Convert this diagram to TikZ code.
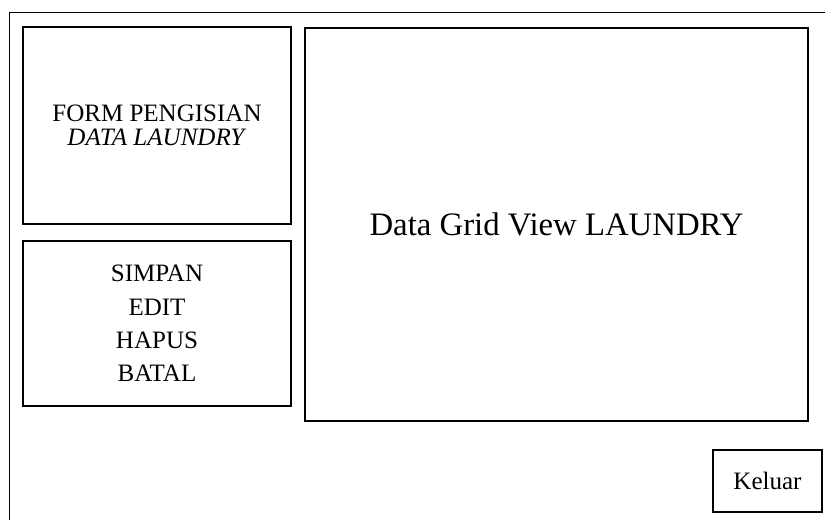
\documentclass[tikz,border=0pt]{standalone}
\usepackage{fontspec}
\setmainfont{Liberation Serif}
\usetikzlibrary{positioning}

\begin{document}
\begin{tikzpicture}[
  x=0.025cm, y=-0.025cm,
  panel/.style={draw=black, line width=0.9pt, inner sep=0pt, align=center},
  btnfont/.style={font=\fontsize{17.8}{23.7}\selectfont}
]
  \clip (0,0) rectangle (825,520);
  \node[panel, anchor=north west, minimum width=21cm, minimum height=13.5cm] (window) at (9,12) {};
  \node[panel, minimum width=6.7cm, minimum height=4.925cm, font=\fontsize{17.8}{17}\selectfont] (form) at (157,125.5) {FORM PENGISIAN\\\textit{DATA LAUNDRY}};
  \node[panel, btnfont, minimum width=6.7cm, minimum height=4.125cm] (tombol) at (157,323.5) {SIMPAN\\EDIT\\HAPUS\\BATAL};
  \node[panel, minimum width=12.575cm, minimum height=9.825cm, font=\fontsize{23.3}{28}\selectfont] (grid) at (556.5,224.5) {Data Grid View LAUNDRY};
  \node[panel, btnfont, minimum width=2.725cm, minimum height=1.55cm] (keluar) at (767.5,481) {Keluar};
\end{tikzpicture}
\end{document}
